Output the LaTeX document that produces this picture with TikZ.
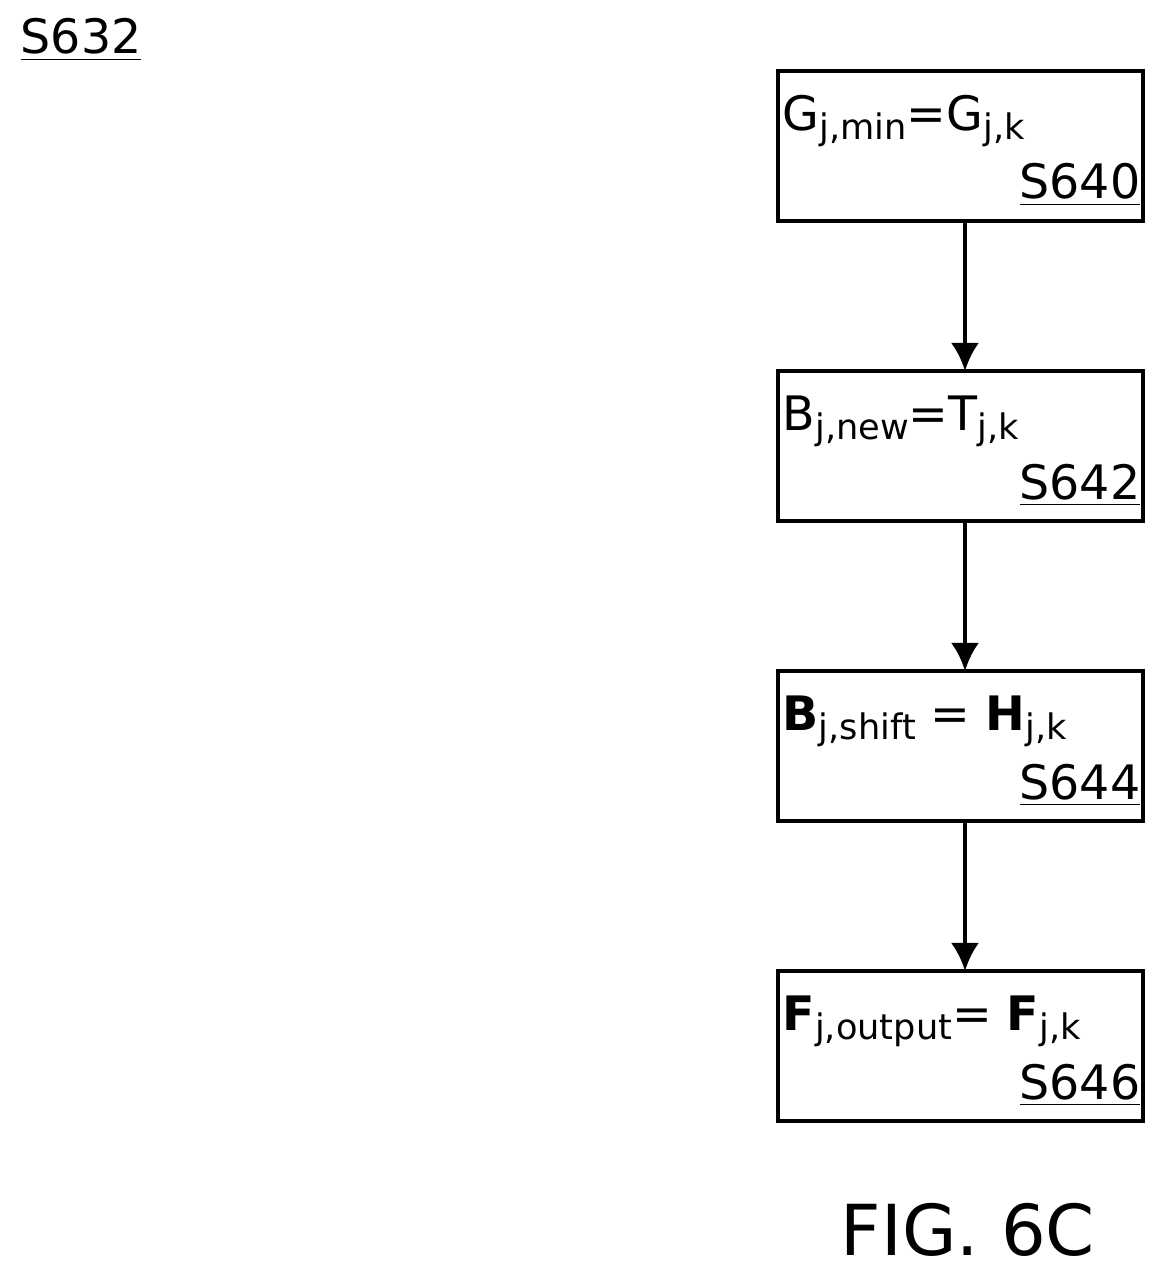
\documentclass[tikz,border=0pt]{standalone}
\usepackage{fontspec}
\setmainfont{DejaVu Sans}
\newcommand{\sub}[1]{\raisebox{-0.35ex}{\fontsize{10pt}{11pt}\selectfont #1}}
\begin{document}
\begin{tikzpicture}[x=0.01cm,y=-0.01cm,
  box/.style={draw,line width=1.2pt,minimum width=365\pgflinewidth,inner sep=0pt},
  arr/.style={-{Latex[length=8pt,width=8pt]},line width=1.2pt},
  txt/.style={font=\fontsize{13.5pt}{15pt}\selectfont,inner sep=0pt}]
\usetikzlibrary{arrows.meta}
\useasboundingbox (0,0) rectangle (1176,1279);
\node[txt,anchor=north west] (s632) at (20,18) {\underline{S632}};
\foreach \n/\y in {a/71,b/371,c/671,d/971}{
  \draw[line width=1.2pt] (778,\y) rectangle (1143,\y+150);
  \coordinate (\n t) at (965,\y);
  \coordinate (\n b) at (965,\y+150);
}
\node[txt,anchor=base west] (ta) at (782,130) {G\sub{j,min}=G\sub{j,k}};
\node[txt,anchor=base east] (la) at (1141,199) {\underline{S640}};
\node[txt,anchor=base west] (tb) at (782,430) {B\sub{j,new}=T\sub{j,k}};
\node[txt,anchor=base east] (lb) at (1141,499) {\underline{S642}};
\node[txt,anchor=base west] (tc) at (782,730) {\textbf{B}\sub{j,shift} = \textbf{H}\sub{j,k}};
\node[txt,anchor=base east] (lc) at (1141,799) {\underline{S644}};
\node[txt,anchor=base west] (td) at (782,1030) {\textbf{F}\sub{j,output}= \textbf{F}\sub{j,k}};
\node[txt,anchor=base east] (ld) at (1141,1099) {\underline{S646}};
\draw[arr] (ab) -- (bt);
\draw[arr] (bb) -- (ct);
\draw[arr] (cb) -- (dt);
\node[anchor=base,inner sep=0pt,font=\fontsize{20pt}{22pt}\selectfont] (fig) at (968,1255) {FIG. 6C};
\end{tikzpicture}
\end{document}
